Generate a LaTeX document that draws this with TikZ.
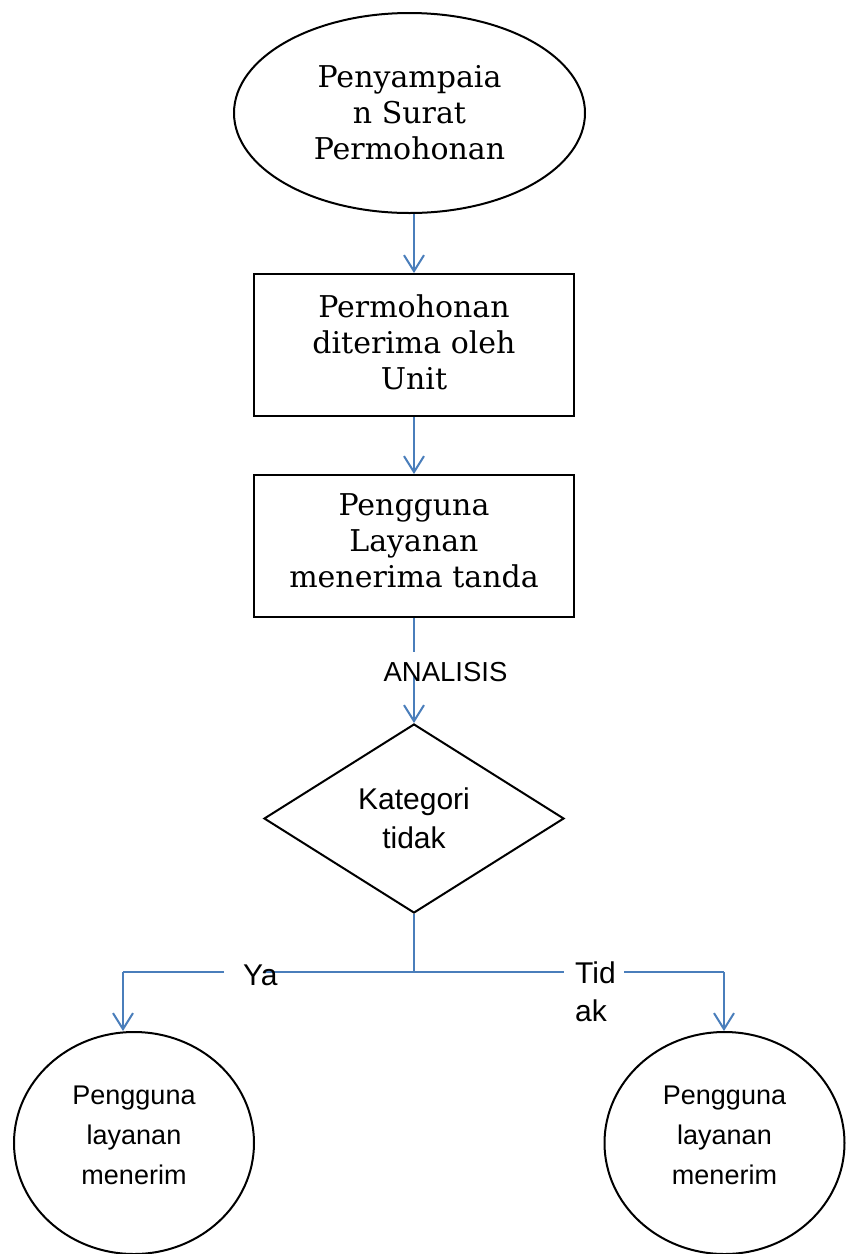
\documentclass[tikz,border=0pt]{standalone}
\usepackage{fontspec}
\setmainfont{DejaVu Serif}
\newfontfamily\sansf{Liberation Sans}
\usetikzlibrary{shapes.geometric,arrows.meta}
\definecolor{connblue}{HTML}{4A7EBB}
\begin{document}
\begin{tikzpicture}[x=1pt,y=-1pt,
  shapebox/.style={draw=black,line width=2pt,inner sep=0pt,align=center},
  sertext/.style={font=\fontsize{30}{36}\selectfont},
  conn/.style={draw=connblue,line width=2pt},
  arr/.style={conn,-{Straight Barb[length=16pt,width=20pt]}},
]
\useasboundingbox[fill=white] (0,0) rectangle (846,1254);
\node[shapebox,sertext,ellipse,minimum width=351pt,minimum height=200pt] (start) at (409.5,113) {Penyampaia\\n Surat\\Permohonan};
\node[shapebox,sertext,rectangle,minimum width=320pt,minimum height=142pt,text depth=6pt] (r1) at (414,345) {Permohonan\\diterima oleh\\Unit};
\node[shapebox,sertext,rectangle,minimum width=320pt,minimum height=142pt,text depth=10pt] (r2) at (414,546) {Pengguna\\Layanan\\menerima tanda};
\node[shapebox,diamond,font=\sansf\fontsize{30}{39}\selectfont,minimum width=300pt,minimum height=189pt] (dec) at (414,818.5) {Kategori\\tidak};
\node[shapebox,ellipse,font=\sansf\fontsize{27}{40}\selectfont,minimum width=240pt,minimum height=222pt,text depth=16pt] (c1) at (134,1143) {Pengguna\\layanan\\menerim};
\node[shapebox,ellipse,font=\sansf\fontsize{27}{40}\selectfont,minimum width=240pt,minimum height=222pt,text depth=16pt] (c2) at (724.5,1143) {Pengguna\\layanan\\menerim};

\draw[arr] (r1.north |- start.south) -- (r1.north);
\draw[arr] (r1.south) -- (r2.north);
\coordinate (a1) at (414,652);
\coordinate (a2) at (414,676);
\draw[conn] (r2.south) -- (a1);
\draw[arr] (a2) -- (dec.north);
\node[font=\sansf\fontsize{27.5}{33}\selectfont,inner sep=0pt] (lab) at (445.5,672) {ANALISIS};

\coordinate (J) at (414,972);
\coordinate (L) at (123,972);
\coordinate (R) at (724,972);
\coordinate (ya1) at (224,972);
\coordinate (ya2) at (265,972);
\coordinate (td1) at (564,972);
\coordinate (td2) at (624,972);
\draw[conn] (dec.south) -- (J);
\draw[conn] (ya2) -- (td1);
\draw[conn] (ya1) -- (L);
\draw[arr] (L) -- (L |- c1.north);
\draw[conn] (td2) -- (R);
\draw[arr] (R) -- (R |- c2.north);
\node[font=\sansf\fontsize{30}{36}\selectfont,inner sep=0pt,anchor=base west] (ya) at (243,985) {Ya};
\node[font=\sansf\fontsize{30}{38}\selectfont,inner sep=0pt,align=left,anchor=north west] (tid) at (575,962) {Tid\\ak};
\end{tikzpicture}
\end{document}
